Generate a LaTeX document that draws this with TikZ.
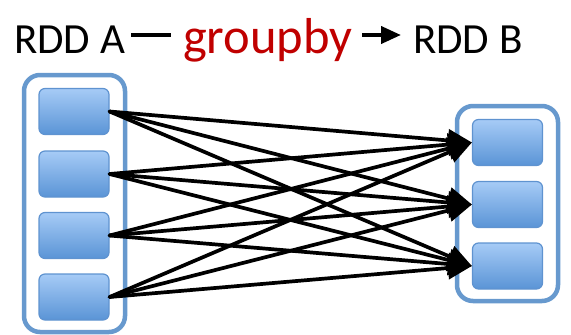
\documentclass[tikz,border=0pt]{standalone}
\usepackage{fontspec}
\setmainfont{Carlito}
\usetikzlibrary{arrows.meta}
\definecolor{partTop}{HTML}{A6CBF6}
\definecolor{partBot}{HTML}{5A94D6}
\definecolor{partEdge}{HTML}{5F93D0}
\definecolor{rddEdge}{HTML}{6799CE}
\definecolor{opRed}{HTML}{C00000}
\begin{document}
\begin{tikzpicture}[x=1pt,y=-1pt,
  part/.style={draw=partEdge,line width=1.2pt,rounded corners=6pt,
    top color=partTop,bottom color=partBot,minimum width=70pt,minimum height=46pt,
    inner sep=0pt},
  rdd/.style={draw=rddEdge,line width=4.5pt,rounded corners=16pt},
  shuffle/.style={line width=3.7pt,line cap=round,-{Triangle[length=24pt,width=22pt]}},
  title/.style={font=\fontsize{43}{43}\selectfont,inner sep=0pt,anchor=base west}]
\useasboundingbox (0,0) rectangle (571,335);
% containers
\draw[rdd] (24,75) rectangle (125,332);
\draw[rdd] (457,106) rectangle (558,301);
% partitions of RDD A
\node[part] (a1) at (74,111.5) {};
\node[part] (a2) at (74,174) {};
\node[part] (a3) at (74,235.5) {};
\node[part] (a4) at (74,297) {};
% partitions of RDD B
\node[part] (b1) at (507.5,142.5) {};
\node[part] (b2) at (507.5,204.5) {};
\node[part] (b3) at (507.5,266) {};
% all-to-all shuffle edges
\foreach \i in {1,...,4}{
  \foreach \j in {1,2,3}{
    \draw[shuffle] (a\i.east) -- (b\j.west);
  }
}
% heading
\node[title] (ta) at (14,53) {RDD A};
\node[title,text=opRed,font=\fontsize{50.5}{50.5}\selectfont] (tg) at (183,53) {groupby};
\node[title] (tb) at (413,53) {RDD B};
\coordinate (d1) at (131,35);
\coordinate (d2) at (171,35);
\coordinate (r1) at (362,35);
\coordinate (r2) at (401,35);
\draw[line width=4pt] (d1) -- (d2);
\draw[line width=4pt,-{Triangle[length=20pt,width=17pt]}] (r1) -- (r2);
\end{tikzpicture}
\end{document}
